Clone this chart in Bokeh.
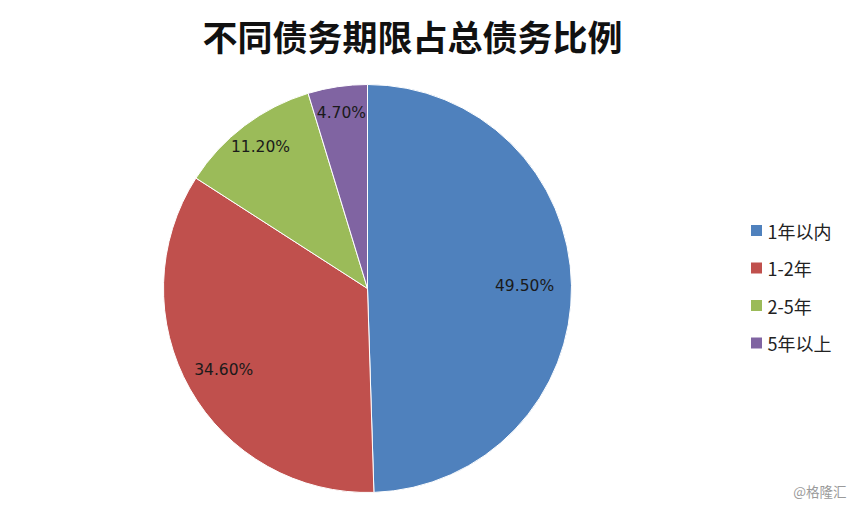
import numpy as np
from bokeh.plotting import figure
from bokeh.models import ColumnDataSource, Range1d
from bokeh.core.properties import value
from bokeh.embed import file_html
from bokeh.resources import INLINE

# ---- data ----
categories = ["1年以内", "1-2年", "2-5年", "5年以上"]
shares = [49.5, 34.6, 11.2, 4.7]
labels = ["49.50%", "34.60%", "11.20%", "4.70%"]
title_text = "不同债务期限占总债务比例"
watermark = "@格隆汇"

# ---- style ----
colors = ["#4F81BD", "#C0504D", "#9BBB59", "#8064A2"]
label_rfrac = [0.77, 0.81, 0.87, 0.87]
W, H = 850, 500
cx, cy, R = 367, H - 288, 204

p = figure(width=W, height=H, output_backend="svg", toolbar_location=None,
           x_range=Range1d(0, W), y_range=Range1d(0, H), min_border=0)
p.axis.visible = False
p.grid.visible = False
p.outline_line_color = None
p.background_fill_color = "white"
p.border_fill_color = "white"

vals = np.array(shares, dtype=float)
frac = vals / vals.sum()
cum = np.concatenate([[0], np.cumsum(frac)])
start = np.pi / 2 - 2 * np.pi * cum[:-1]
end = np.pi / 2 - 2 * np.pi * cum[1:]
mid = (start + end) / 2

src = ColumnDataSource(dict(start=start, end=end, color=colors, cat=categories))
p.wedge(x=cx, y=cy, radius=R, start_angle="start", end_angle="end",
        direction="clock", fill_color="color", line_color="white",
        line_width=1, source=src)

# data labels
lx = cx + np.array(label_rfrac) * R * np.cos(mid)
ly = cy + np.array(label_rfrac) * R * np.sin(mid)
p.text(x=lx, y=ly, text=labels, text_font=value("DejaVu Sans"),
       text_font_size="15.5px", text_color="#1a1a1a",
       text_align="center", text_baseline="middle")

# title
p.text(x=[412], y=[H - 35], text=[title_text], text_font=value("Noto Sans CJK SC"),
       text_font_size="35px", text_font_style="bold", text_color="#111111",
       text_align="center", text_baseline="middle")

# legend
n = len(categories)
leg_y = (H - 230) - 37.5 * np.arange(n)
p.rect(x=[756] * n, y=leg_y, width=11, height=11, fill_color=colors, line_color=None)
p.text(x=[767] * n, y=leg_y, text=categories, text_font=value("Noto Sans CJK SC"),
       text_font_size="18px", text_color="#222222",
       text_align="left", text_baseline="middle")

# watermark
p.text(x=[846], y=[H - 490], text=[watermark], text_font=value("Noto Sans CJK SC"),
       text_font_size="13.5px", text_color="#9a9a9a",
       text_align="right", text_baseline="middle")

open("out.html", "w").write(file_html(p, INLINE))
